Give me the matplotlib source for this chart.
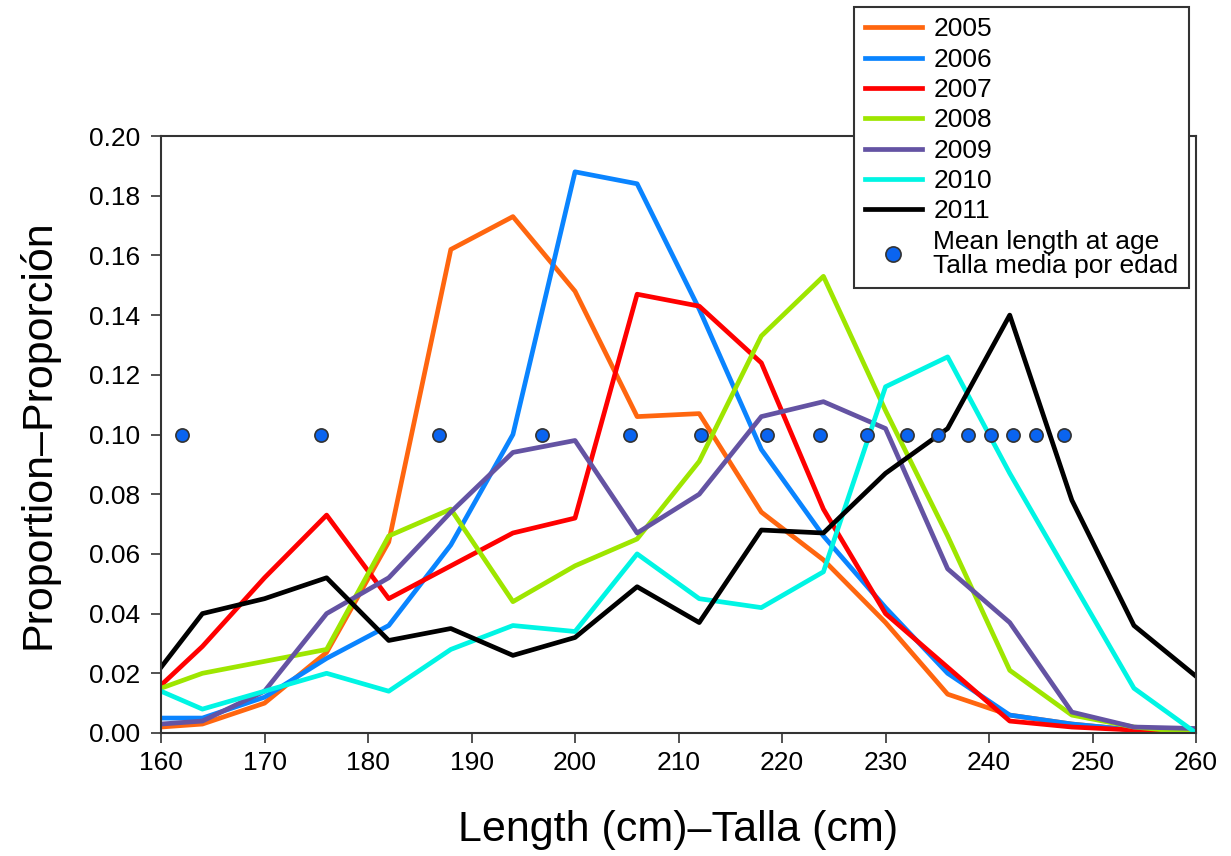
import matplotlib
matplotlib.use('Agg')
import matplotlib.pyplot as plt

plt.rcParams['font.family'] = ['Liberation Sans', 'DejaVu Sans']

lengths = [160, 164, 170, 176, 182, 188, 194, 200, 206, 212, 218, 224, 230, 236, 242, 248, 254, 260]

y2005 = [0.002, 0.003, 0.010, 0.027, 0.064, 0.162, 0.173, 0.148, 0.106, 0.107, 0.074, 0.058, 0.037, 0.013, 0.006, 0.003, 0.001, 0.000]
y2006 = [0.005, 0.005, 0.012, 0.025, 0.036, 0.063, 0.100, 0.188, 0.184, 0.142, 0.095, 0.066, 0.042, 0.020, 0.006, 0.003, 0.001, 0.000]
y2007 = [0.016, 0.029, 0.052, 0.073, 0.045, 0.056, 0.067, 0.072, 0.147, 0.143, 0.124, 0.075, 0.040, 0.022, 0.004, 0.002, 0.001, 0.000]
y2008 = [0.015, 0.020, 0.024, 0.028, 0.066, 0.075, 0.044, 0.056, 0.065, 0.091, 0.133, 0.153, 0.108, 0.066, 0.021, 0.006, 0.002, 0.000]
y2009 = [0.003, 0.004, 0.014, 0.040, 0.052, 0.074, 0.094, 0.098, 0.067, 0.080, 0.106, 0.111, 0.102, 0.055, 0.037, 0.007, 0.002, 0.0015]
y2010 = [0.014, 0.008, 0.014, 0.020, 0.014, 0.028, 0.036, 0.034, 0.060, 0.045, 0.042, 0.054, 0.116, 0.126, 0.087, 0.051, 0.015, 0.000]
y2011 = [0.022, 0.040, 0.045, 0.052, 0.031, 0.035, 0.026, 0.032, 0.049, 0.037, 0.068, 0.067, 0.087, 0.102, 0.140, 0.078, 0.036, 0.019]

years = ['2005', '2006', '2007', '2008', '2009', '2010', '2011']
series = [y2005, y2006, y2007, y2008, y2009, y2010, y2011]
colors = ['#ff660f', '#0a84ff', '#ff0000', '#9ee600', '#6453a3', '#00f5e4', '#000000']

mean_len = [162.0, 175.5, 186.9, 196.8, 205.3, 212.2, 218.5, 223.7, 228.2,
            232.1, 235.1, 238.0, 240.2, 242.3, 244.5, 247.2]
mean_y = [0.10] * len(mean_len)

fig = plt.figure(figsize=(12.31, 8.56), dpi=100)
ax = fig.add_axes([0.1308, 0.1437, 0.8408, 0.6974])

for yr, ys, c in zip(years, series, colors):
    ax.plot(lengths, ys, color=c, lw=3.4, label=yr)

ax.plot(mean_len, mean_y, 'o', ms=9.5, mfc='#0a64f0', mec='#333333', mew=1.2,
        label='Mean length at age\nTalla media por edad', zorder=5)

ax.set_xlim(160, 260)
ax.set_ylim(0, 0.20)
ax.set_xticks(range(160, 261, 10))
ax.set_yticks([i * 0.02 for i in range(11)])
ax.set_yticklabels(['%.2f' % (i * 0.02) for i in range(11)])
ax.tick_params(direction='out', length=7, width=1.2, labelsize=19, colors='#333333',
               labelcolor='black')
ax.tick_params(axis='x', pad=6)
ax.tick_params(axis='y', pad=8)
for s in ax.spines.values():
    s.set_linewidth(1.5)
    s.set_color('#333333')

ax.set_xlabel('Length (cm)\u2013Talla (cm)', fontsize=31, labelpad=25)
ax.set_ylabel('Proportion\u2013Proporci\u00f3n', fontsize=31, labelpad=22)

leg = ax.legend(loc='upper right', bbox_to_anchor=(0.966, 0.992),
                bbox_transform=fig.transFigure, fontsize=19, frameon=True,
                fancybox=False, framealpha=1, edgecolor='#333333',
                handlelength=2.15, handletextpad=0.45, labelspacing=0.24,
                borderpad=0.4, borderaxespad=0, markerscale=1.15)
leg.get_frame().set_linewidth(1.5)
for t in leg.get_texts():
    t.set_linespacing(1.0)

fig.savefig('out.png', dpi=100)
